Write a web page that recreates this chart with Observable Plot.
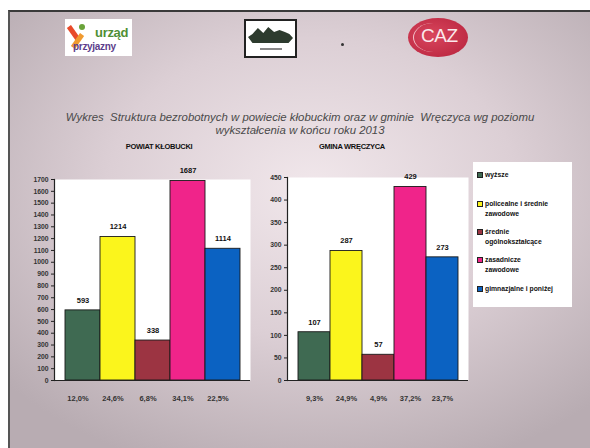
<!DOCTYPE html>
<html><head><meta charset="utf-8">
<script src="https://cdn.jsdelivr.net/npm/d3@7"></script>
<script src="https://cdn.jsdelivr.net/npm/@observablehq/plot@0.6"></script>
<style>
html,body{margin:0;padding:0;}
body{position:relative;width:590px;height:448px;overflow:hidden;background:#fff;font-family:"Liberation Sans",Arial,sans-serif;}
#slide{position:absolute;left:8px;top:10px;width:582px;height:438px;border-top:2px solid #3a3a3a;border-left:2px solid #555;
 background:radial-gradient(ellipse 70% 68% at 52% 40%, #f1e7eb 0%, #dccfd5 50%, #b8acb2 100%);}
.abs{position:absolute;}
#title{left:20px;top:111px;width:560px;text-align:center;font-style:italic;font-size:11.4px;line-height:13px;color:#4a4a4a;}
.sub{top:142px;font-weight:bold;font-size:7.5px;color:#111;text-align:center;width:160px;letter-spacing:-0.3px;}
#legend{left:473px;top:162px;width:99px;height:145px;background:#fff;}
.li{position:absolute;left:4px;font-weight:bold;font-size:6.8px;line-height:9.5px;color:#111;padding-left:8px;}
.li i{position:absolute;left:0;top:2px;width:4px;height:4px;border:0.8px solid #222;}
#logo1{left:65px;top:19px;width:67px;height:37px;background:#fff;overflow:hidden;}
#logo2{left:244px;top:19px;width:49px;height:35px;background:#fff;border:2px solid #222;}
#logo3{left:408px;top:18px;width:60px;height:39px;border-radius:50%;background:radial-gradient(ellipse at 40% 45%, #d9465d 0%, #c02c45 70%, #b2253c 100%);}
</style></head>
<body>
<div id="slide"></div>
<div id="logo1" class="abs">
  <div class="abs" style="left:6px;top:6px;width:5px;height:16px;background:#e84a2a;transform:rotate(-35deg);"></div>
  <div class="abs" style="left:10px;top:14px;width:5px;height:16px;background:#f09a30;transform:rotate(35deg);"></div>
  <div class="abs" style="left:14px;top:5px;width:6px;height:6px;border-radius:50%;background:#6aa33a;"></div>
  <div class="abs" style="left:30px;top:6px;font-weight:bold;font-size:13px;color:#4f8f35;letter-spacing:-0.3px;">urząd</div>
  <div class="abs" style="left:8px;top:22px;font-weight:bold;font-size:10px;color:#5c3d8a;letter-spacing:-0.3px;">przyjazny</div>
</div>
<div id="logo2" class="abs">
  <div class="abs" style="left:2px;top:5px;width:45px;height:20px;background:#2d3b2e;clip-path:polygon(0% 55%,10% 40%,22% 10%,34% 35%,45% 5%,58% 30%,70% 20%,82% 30%,92% 40%,100% 60%,90% 85%,10% 85%);"></div>
  <div class="abs" style="left:14px;top:27px;width:22px;height:2px;background:#888;"></div>
</div>
<div id="logo3" class="abs">
  <div class="abs" style="left:5px;top:5px;width:40px;height:29px;border-radius:50%;border-left:1.5px solid #f3c4cc;"></div>
  <div class="abs" style="left:13px;top:7px;font-size:19px;color:#fbe9ec;letter-spacing:-0.5px;">CAZ</div>
</div>
<div class="abs" style="left:341px;top:43px;width:3px;height:3px;border-radius:50%;background:#333;"></div>

<div id="title" class="abs">Wykres&nbsp; Struktura bezrobotnych w powiecie kłobuckim oraz w gminie&nbsp; Wręczyca wg poziomu<br>wykształcenia w końcu roku 2013</div>
<div class="abs sub" style="left:79px;">POWIAT KŁOBUCKI</div>
<div class="abs sub" style="left:272px;">GMINA WRĘCZYCA</div>

<div id="chartL" class="abs" style="left:0;top:150px;"></div>
<div id="chartR" class="abs" style="left:240px;top:150px;"></div>
<div id="legend" class="abs"></div>

<script>
// ---- data ----
const categories = ["wyższe", "policealne i średnie zawodowe", "średnie ogólnokształcące", "zasadnicze zawodowe", "gimnazjalne i poniżej"];
const legendLines = [["wyższe"], ["policealne i średnie", "zawodowe"], ["średnie", "ogólnokształcące"], ["zasadnicze", "zawodowe"], ["gimnazjalne i poniżej"]];
const powiatValues = [593, 1214, 338, 1687, 1114];
const powiatPercents = ["12,0%", "24,6%", "6,8%", "34,1%", "22,5%"];
const gminaValues = [107, 287, 57, 429, 273];
const gminaPercents = ["9,3%", "24,9%", "4,9%", "37,2%", "23,7%"];
const powiatTicks = [0,100,200,300,400,500,600,700,800,900,1000,1100,1200,1300,1400,1500,1600,1700];
const gminaTicks = [0,50,100,150,200,250,300,350,400,450];

// ---- style ----
const palette = ["#3f6a52", "#fbf51c", "#9c3442", "#f0248a", "#0b62c2"];

function chart(values, percents, ticks, yMax, o) {
  const data = categories.map((c, i) => ({cat: c, value: values[i], pct: percents[i]}));
  return Plot.plot({
    width: o.width, height: o.height,
    marginLeft: o.ml, marginRight: o.mr, marginTop: o.mt, marginBottom: o.mb,
    style: {background: "transparent", fontFamily: "Liberation Sans, Arial, sans-serif", color: "#222", overflow: "visible"},
    x: {domain: categories, paddingInner: 0, paddingOuter: 0.26, label: null},
    y: {domain: [0, yMax], label: null},
    color: {domain: categories, range: palette},
    marks: [
      Plot.frame({fill: "white", stroke: "none"}),
      Plot.axisY({ticks: ticks, tickFormat: d => String(d), tickSize: 3, tickPadding: 3, fontSize: 6.8, fontWeight: "bold", label: null, stroke: "#222", fill: "#333"}),
      Plot.axisX({tickSize: 0, tickPadding: 15, fontSize: 7.5, fontWeight: "bold", dx: o.pdx, tickFormat: d => percents[categories.indexOf(d)], label: null, fill: "#333"}),
      Plot.barY(data, {x: "cat", y: "value", fill: "cat", stroke: "#1a1a1a", strokeWidth: 0.9}),
      Plot.text(data, {x: "cat", y: "value", text: d => String(d.value), dy: -10, fontSize: 7.5, fontWeight: "bold", fill: "#111"}),
      Plot.ruleY([0], {stroke: "#222", strokeWidth: 1}),
      Plot.frame({anchor: "left", stroke: "#222", strokeWidth: 1.2})
    ]
  });
}

document.getElementById("chartL").append(chart(powiatValues, powiatPercents, powiatTicks, 1700,
  {width: 262, height: 262, ml: 54, mr: 12, mt: 29, mb: 32, pdx: -5}));
document.getElementById("chartR").append(chart(gminaValues, gminaPercents, gminaTicks, 450,
  {width: 240, height: 262, ml: 47, mr: 12, mt: 27, mb: 32, pdx: 0}));

// legend
const leg = document.getElementById("legend");
const tops = [8, 37, 65, 93, 122];
legendLines.forEach((lines, i) => {
  const d = document.createElement("div");
  d.className = "li";
  d.style.top = tops[i] + "px";
  const sw = document.createElement("i");
  sw.style.background = palette[i];
  d.append(sw);
  lines.forEach((t, j) => { if (j) d.append(document.createElement("br")); d.append(document.createTextNode(t)); });
  leg.append(d);
});
</script>
</body></html>
